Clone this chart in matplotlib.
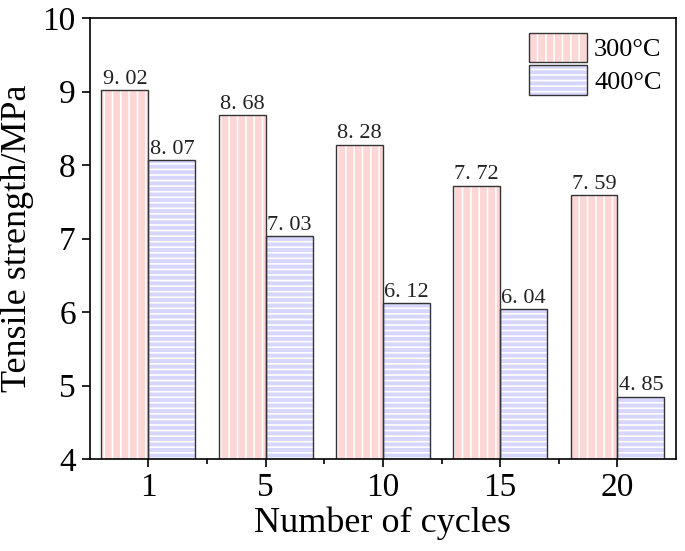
import numpy as np
import matplotlib.pyplot as plt
from matplotlib.patches import Patch

cycles = ['1', '5', '10', '15', '20']
s300 = [9.02, 8.68, 8.28, 7.72, 7.59]
s400 = [8.07, 7.03, 6.12, 6.04, 4.85]

plt.rcParams['font.family'] = 'Liberation Serif'
plt.rcParams['hatch.linewidth'] = 1.2

fig = plt.figure(figsize=(6.85, 5.51), dpi=100)
ax = fig.add_axes([0.131, 0.167, 0.856, 0.800])

x = np.arange(len(cycles))
w = 0.4
red_fill = '#ffd6d6'
blue_fill = '#d6d6ff'
edge = '#333333'

# filled + hatched bars (white hatch lines), then dark outlines on top
ax.bar(x - w / 2, s300, w, color=red_fill, edgecolor='white', hatch='||', linewidth=0)
ax.bar(x + w / 2, s400, w, color=blue_fill, edgecolor='white', hatch='---', linewidth=0)
ax.bar(x - w / 2, s300, w, fill=False, edgecolor=edge, linewidth=1.0)
ax.bar(x + w / 2, s400, w, fill=False, edgecolor=edge, linewidth=1.0)

for xi, v in zip(x, s300):
    ax.text(xi - w / 2, v + 0.02, f'{v:.2f}'.replace('.', '. '), ha='center', va='bottom',
            fontsize=16, color='#222222')
for xi, v in zip(x, s400):
    ax.text(xi + w / 2, v + 0.02, f'{v:.2f}'.replace('.', '. '), ha='center', va='bottom',
            fontsize=16, color='#222222')

ax.set_ylim(4, 10)
ax.set_xlim(-0.5, 4.5)
ax.set_xticks(x)
ax.set_xticklabels(cycles)
ax.set_xticks(x[:-1] + 0.5, minor=True)
ax.set_yticks([4, 5, 6, 7, 8, 9, 10])
ax.tick_params(axis='both', which='major', direction='out', length=6, width=1.2, labelsize=24, pad=4)
ax.tick_params(axis='x', which='minor', direction='out', length=3.5, width=1.2)
for s in ax.spines.values():
    s.set_linewidth(1.2)

ax.set_xlabel('Number of cycles', fontsize=26, labelpad=2)
ax.set_ylabel('Tensile strength/MPa', fontsize=26, labelpad=6)

h300 = (Patch(facecolor=red_fill, edgecolor='white', hatch='||', linewidth=0),
        Patch(fill=False, edgecolor=edge, linewidth=1.0))
h400 = (Patch(facecolor=blue_fill, edgecolor='white', hatch='---', linewidth=0),
        Patch(fill=False, edgecolor=edge, linewidth=1.0))
ax.legend([h300, h400], ['300°C', '400°C'], loc='upper right', fontsize=19,
          frameon=False, handlelength=2.2, handleheight=1.35, borderaxespad=0.15,
          labelspacing=0.1, handletextpad=0.25)

fig.savefig('out.png', dpi=100)
